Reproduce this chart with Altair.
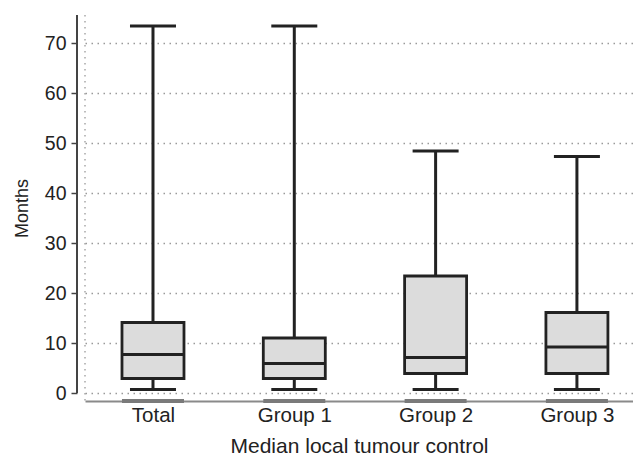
import altair as alt
import pandas as pd

categories = ["Total", "Group 1", "Group 2", "Group 3"]
whisker_low = [0.7, 0.7, 0.7, 0.7]
q1 = [2.9, 2.9, 3.9, 3.9]
median = [7.7, 5.9, 7.1, 9.2]
q3 = [14.1, 11.0, 23.4, 16.1]
whisker_high = [73.4, 73.4, 48.4, 47.3]
y_ticks = [0, 10, 20, 30, 40, 50, 60, 70]

df = pd.DataFrame({
    "group": categories,
    "low": whisker_low,
    "q1": q1,
    "median": median,
    "q3": q3,
    "high": whisker_high,
})
one = pd.DataFrame({"k": [0]})

W, H = 548, 386
FONT = "Liberation Sans"
INK = "#222222"

ys = alt.Scale(domain=[-1.6, 75.6], nice=False, zero=False)
xs = alt.Scale(type="point", padding=0.439, align=0.548)

xenc = alt.X(
    "group:N", sort=categories, scale=xs,
    axis=alt.Axis(
        title="Median local tumour control", labelAngle=0, labelFontSize=20.5,
        labelColor=INK, labelPadding=4, ticks=False, domain=True,
        domainColor="#8a8a8a", domainWidth=2, grid=False,
        titleFontSize=21, titleFontWeight="normal", titleColor=INK, titlePadding=10,
    ),
)
yaxis = alt.Axis(
    title="Months", values=y_ticks, offset=8, tickSize=6, tickColor="#444444",
    tickWidth=1.5, domain=False, labelFontSize=19.5, labelColor=INK, labelPadding=5,
    grid=True, gridColor="#9a9a9a", gridDash=[1.5, 4.5], gridWidth=1.3,
    titleFontSize=18, titleFontWeight="normal", titleColor=INK, titlePadding=13,
)

base = alt.Chart(df)

whiskers = base.mark_rule(color=INK, strokeWidth=3).encode(
    x=xenc, y=alt.Y("low:Q", scale=ys, axis=yaxis), y2="high:Q"
)
boxes = base.mark_bar(size=62, fill="#dcdcdc", stroke=INK, strokeWidth=2.8).encode(
    x=xenc, y=alt.Y("q1:Q", scale=ys), y2="q3:Q"
)
medians = base.mark_tick(size=62, thickness=3, color=INK, orient="horizontal", opacity=1).encode(
    x=xenc, y=alt.Y("median:Q", scale=ys)
)
caps_low = base.mark_tick(size=46, thickness=3, color=INK, orient="horizontal", opacity=1).encode(
    x=xenc, y=alt.Y("low:Q", scale=ys)
)
caps_high = base.mark_tick(size=46, thickness=3, color=INK, orient="horizontal", opacity=1).encode(
    x=xenc, y=alt.Y("high:Q", scale=ys)
)
axis_bands = base.mark_tick(size=62, thickness=4, color="#7a7a7a", orient="horizontal", opacity=1).encode(
    x=xenc, y=alt.value(H)
)
left_dotted = alt.Chart(one).mark_rule(color="#9a9a9a", strokeDash=[1.5, 4.5], strokeWidth=1.3).encode(
    x=alt.value(0), y=alt.value(0), y2=alt.value(H)
)
y_domain = alt.Chart(one).mark_rule(color="#444444", strokeWidth=2).encode(
    x=alt.value(-8), y=alt.datum(75.6, scale=ys), y2=alt.datum(0)
)

chart = alt.layer(
    left_dotted, y_domain, whiskers, boxes, medians, caps_low, caps_high, axis_bands
).properties(
    width=W, height=H,
    autosize=alt.AutoSizeParams(type="none"),
    padding={"left": 77, "top": 7, "right": 0, "bottom": 57},
).configure_view(stroke=None).configure_axis(labelFont=FONT, titleFont=FONT)

chart.save("out.html", embed_options={"renderer": "svg", "actions": False})
